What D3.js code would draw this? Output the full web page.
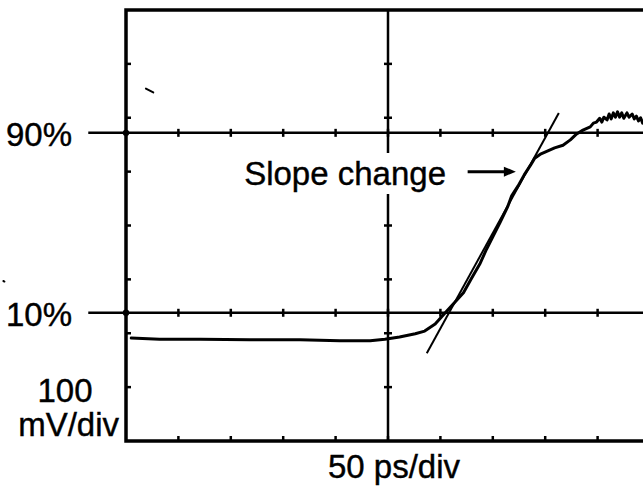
<!DOCTYPE html>
<html>
<head>
 <meta charset="UTF-8">
 <title>Rise time, 50 ps/div</title>
 <script src="https://cdn.jsdelivr.net/npm/d3@7"></script>
 <style>
body {
  margin: 0;
  background: #fff;
}
svg {
  display: block;
}
text {
  font-family: "Liberation Sans", Arial, Helvetica, sans-serif;
  font-size: 33px;
  fill: #000;
  stroke: #000;
  stroke-width: 0.4px;
}
.frame, .ref, .center, .tick {
  stroke: #000;
  fill: none;
}
.frame { stroke-width: 3.5px; }
.ref, .center { stroke-width: 2.5px; }
.tick { stroke-width: 2.5px; }
.trace {
  fill: none;
  stroke: #000;
  stroke-width: 3px;
  stroke-linejoin: round;
  stroke-linecap: round;
}
.tangent, .speck {
  stroke: #000;
  stroke-width: 2px;
}
 </style>
</head>
<body>
<svg id="scope" width="643" height="491"></svg>
<script>
// time in ps (0 = centre graticule line), voltage in mV (0 = centre)
var time = [-245,-218,-179,-132,-84,-46,-17,-3,11,26,35,45,51,57,64,72,80,88,94,100,
  107,114,118,124,130,136,140,146,152,159,167,174,180,186,193,196,
  199,202,204,206,209,211,213,215,217,219,221,223,225,228,230,233,235,237,239,241,243];
var volts = [-209,-211,-211,-212,-212,-214,-214,-211,-207,-201,-196,-183,-170,-157,-142,-125,-97,-70,-44,-21,
  6,34,55,73,94,112,125,133,138,144,149,159,170,177,183,190,
  192,199,192,201,196,207,198,209,201,211,201,209,199,209,201,207,198,203,194,200,190];
var tangentLine = [[37, -237], [163, 209]];
var refLevels = [{label: "90%", mv: 172}, {label: "10%", mv: -162}];
var arrow = {from: 76, to: 122, mv: 100};
var specks = [[[-367, -103], [-366, -104]], [[-231, 254], [-224, 247]]];
var xDivs = d3.range(-250, 251, 50);   // 50 ps/div
var yDivs = d3.range(-400, 401, 100);  // 100 mV/div

var svg = d3.select("#scope"),
  x = d3.scaleLinear().domain([-250, 250]).range([126, 650]),
  y = d3.scaleLinear().domain([-400, 400]).range([441, 10]),
  line = d3.line().x(function(d){ return x(d[0]); }).y(function(d){ return y(d[1]); });

// frame (right side falls outside the picture)
svg.append("path")
  .attr("class", "frame")
  .attr("d", "M" + x(250) + "," + y(400) + "H" + x(-250) + "V" + y(-400) + "H" + x(250));

// centre vertical graticule line
svg.append("line")
  .attr("class", "center")
  .attr("x1", x(0)).attr("x2", x(0))
  .attr("y1", y(400)).attr("y2", y(-400));

// ticks on left edge (inside), centre line (both sides), bottom edge (up)
yDivs.slice(1, -1).forEach(function(v){
  svg.append("line").attr("class", "tick")
    .attr("x1", x(-250)).attr("x2", x(-250) + 5)
    .attr("y1", y(v)).attr("y2", y(v));
  svg.append("line").attr("class", "tick")
    .attr("x1", x(0) - 4).attr("x2", x(0) + 4)
    .attr("y1", y(v)).attr("y2", y(v));
});
xDivs.slice(1, -1).forEach(function(t){
  svg.append("line").attr("class", "tick")
    .attr("x1", x(t)).attr("x2", x(t))
    .attr("y1", y(-400)).attr("y2", y(-400) - 5);
});

// 90% and 10% reference lines
refLevels.forEach(function(r){
  svg.append("line")
    .attr("class", "ref")
    .attr("x1", x(-286)).attr("x2", 643)
    .attr("y1", y(r.mv)).attr("y2", y(r.mv));
  xDivs.slice(1).forEach(function(t){
    svg.append("line").attr("class", "tick")
      .attr("x1", x(t)).attr("x2", x(t))
      .attr("y1", y(r.mv) - 4).attr("y2", y(r.mv) + 4);
  });
  svg.append("circle")
    .attr("cx", x(-250)).attr("cy", y(r.mv)).attr("r", 3.2);
  svg.append("text")
    .attr("x", 72).attr("y", y(r.mv) + 13)
    .attr("text-anchor", "end")
    .text(r.label);
});

// tangent to the steep part of the edge
svg.append("line")
  .attr("class", "tangent")
  .attr("x1", x(tangentLine[0][0])).attr("y1", y(tangentLine[0][1]))
  .attr("x2", x(tangentLine[1][0])).attr("y2", y(tangentLine[1][1]));

// the measured edge
svg.append("path")
  .attr("class", "trace")
  .attr("d", line(d3.zip(time, volts)));

// annotation, on a white patch that breaks the centre line
var note = svg.append("g");
var noteBox = note.append("rect").attr("fill", "#fff");
var noteText = note.append("text")
  .attr("x", 446).attr("y", 185)
  .attr("text-anchor", "end")
  .text("Slope change");
var bb = noteText.node().getBBox();
noteBox.attr("x", bb.x - 2).attr("y", bb.y - 2).attr("width", bb.width + 4).attr("height", bb.height + 4);

svg.append("line")
  .attr("stroke", "#000").attr("stroke-width", 3)
  .attr("x1", x(arrow.from)).attr("x2", x(arrow.to) - 10)
  .attr("y1", y(arrow.mv)).attr("y2", y(arrow.mv));
svg.append("path")
  .attr("d", "M" + x(arrow.to) + "," + y(arrow.mv) + "l-12,-5v10z")
  .attr("fill", "#000");

// axis scale labels
svg.append("text").attr("x", 65).attr("y", 402).attr("text-anchor", "middle").text("100");
svg.append("text").attr("x", 119).attr("y", 436).attr("text-anchor", "end").text("mV/div");
svg.append("text").attr("x", x(0) + 6).attr("y", 478).attr("text-anchor", "middle").text("50 ps/div");

// stray specks on the scan
specks.forEach(function(s){
  svg.append("path").attr("class", "speck").attr("stroke-linecap", "round").attr("d", line(s));
});
</script>
</body>
</html>
